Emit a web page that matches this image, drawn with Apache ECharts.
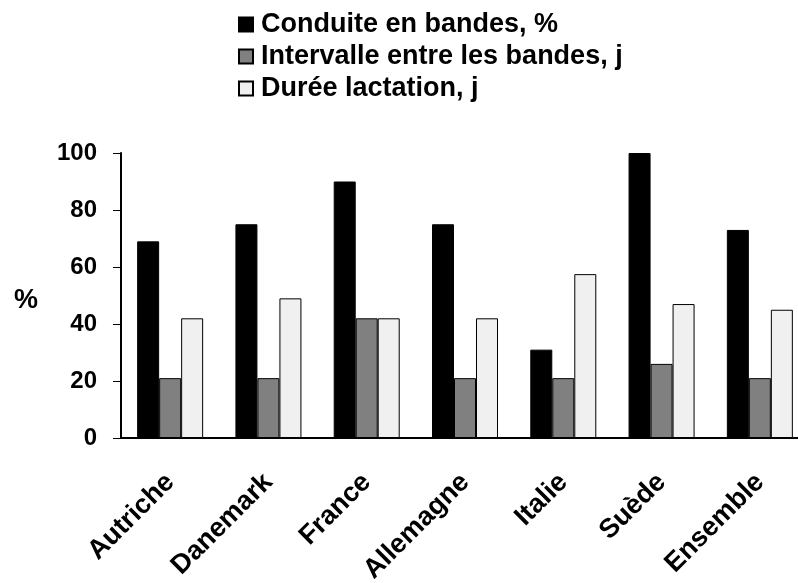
<!DOCTYPE html>
<html>
<head>
<meta charset="utf-8">
<script src="https://cdn.jsdelivr.net/npm/echarts@6/dist/echarts.min.js"></script>
<style>
html,body{margin:0;padding:0;background:#fff;}
#chart{width:798px;height:583px;}
</style>
</head>
<body>
<div id="chart"></div>
<script>
const categories = ['Autriche', 'Danemark', 'France', 'Allemagne', 'Italie', 'Suède', 'Ensemble'];
const conduite = [69, 75, 90, 75, 31, 100, 73];
const intervalle = [21, 21, 42, 21, 21, 26, 21];
const lactation = [42, 49, 42, 42, 57.5, 47, 45];
const seriesNames = ['Conduite en bandes, %', 'Intervalle entre les bandes, j', 'Durée lactation, j'];
const yTicks = [0, 20, 40, 60, 80, 100];

const FONT = '"Liberation Sans", Arial, sans-serif';
const chart = echarts.init(document.getElementById('chart'), null, {renderer: 'canvas'});

function barSeries(name, data, color) {
  return {
    name: name,
    type: 'bar',
    data: data,
    barWidth: 22,
    barGap: '0%',
    itemStyle: {color: color, borderColor: '#000', borderWidth: 1},
    emphasis: {disabled: true}
  };
}

chart.setOption({
  animation: false,
  backgroundColor: '#fff',
  textStyle: {fontFamily: FONT},
  legend: {
    orient: 'vertical',
    left: 233,
    top: 6,
    itemWidth: 14,
    itemHeight: 14,
    itemGap: 5,
    icon: 'rect',
    selectedMode: false,
    data: seriesNames,
    textStyle: {
      fontFamily: FONT,
      fontWeight: 'bold',
      fontSize: 27,
      color: '#000',
      lineHeight: 27,
      padding: [0, 0, 0, 3]
    }
  },
  graphic: [{
    type: 'text',
    left: 14,
    top: 287,
    style: {text: '%', font: 'bold 27px ' + FONT, fill: '#000'}
  }],
  grid: {left: 121, top: 153, width: 688, height: 285, containLabel: false, outerBoundsMode: 'none'},
  xAxis: {
    type: 'category',
    data: categories,
    axisLine: {lineStyle: {color: '#000', width: 2}},
    axisTick: {length: 8, lineStyle: {color: '#000', width: 1}},
    axisLabel: {
      rotate: 45,
      margin: 40,
      interval: 0,
      color: '#000',
      fontFamily: FONT,
      fontWeight: 'bold',
      fontSize: 27
    },
    splitLine: {show: false}
  },
  yAxis: {
    type: 'value',
    min: yTicks[0],
    max: yTicks[yTicks.length - 1],
    interval: yTicks[1] - yTicks[0],
    axisLine: {show: true, lineStyle: {color: '#000', width: 2}},
    axisTick: {show: true, length: 8, lineStyle: {color: '#000', width: 1}},
    axisLabel: {
      margin: 24,
      color: '#000',
      fontFamily: FONT,
      fontWeight: 'bold',
      fontSize: 24
    },
    splitLine: {show: false}
  },
  series: [
    barSeries(seriesNames[0], conduite, '#000000'),
    barSeries(seriesNames[1], intervalle, '#808080'),
    barSeries(seriesNames[2], lactation, '#f0f0f0')
  ]
});
</script>
</body>
</html>
